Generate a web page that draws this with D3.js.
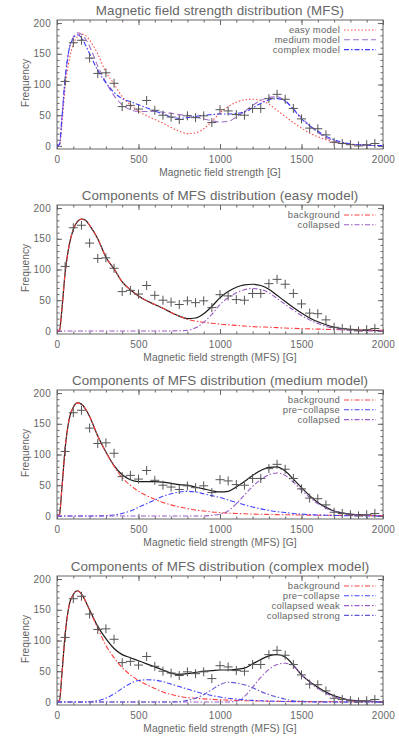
<!DOCTYPE html>
<html>
<head>
<meta charset="utf-8">
<script src="https://cdn.jsdelivr.net/npm/d3@7"></script>
<style>
  body { margin: 0; background: #fff; }
  text { font-family: "Liberation Sans", Arial, sans-serif; fill: #666; }
</style>
</head>
<body>
<div id="chart"></div>
<script>
// --- observed histogram (the "+" markers) ---
const obsX = [50,100,150,200,250,300,350,400,450,500,550,600,650,700,750,800,850,900,950,1000,
  1050,1100,1150,1200,1250,1300,1350,1400,1450,1500,1550,1600,1650,1700,1750,1800,1850,1900,1950];
const obsY = [105,168,172,143,118,119,102,64,66,60,74,58,50,47,43,49,46,49,38,59,
  57,51,50,61,61,77,84,76,61,44,29,28,18,6,4,2,0,2,4];

// --- sampling grid for the model curves [G] ---
const gridX = [0,15,30,50,75,100,125,150,175,200,250,300,350,400,450,500,550,600,650,700,750,800,850,
  900,950,1000,1050,1100,1150,1200,1250,1300,1350,1400,1450,1500,1550,1600,1650,1700,1750,1800,1850,1900,1950,2000];

// easy model
const easyTotal = [0,1,35,95,140,165,178,182,180,172,150,120,101,80,67,57,49,43,37,30,24,20,21,28,
  40,54,64,71,75,76,74,68,58,48,38,29,21,15,10,6,4,2.5,1.5,1,0.7,0.5];
const easyBackground = [0,1,35,95,140,165,178,182,180,172,150,120,101,80,67,57,49,43,37,30,24,19,16,14,
  12.5,11,10,9,8,7,6.5,6,5.3,4.7,4.2,3.7,3.3,3,2.6,2.3,2,1.8,1.5,1.3,1.1,1];
const easyCollapsed = [0,0,0,0,0,0,0,0,0,0,0,0,0,0,0,0,0,0,0,0,0.3,1,5,14,
  27,43,54,62,67,69,67.5,62,53,43,34,25,18,12,7.5,4,2,1,0.3,0,0,0];

// medium model
const mediumTotal = [0,2,45,110,158,177,184,182,174,162,130,104,82,67,59,56,56,56,55,53,51,50,47,44,
  41,39,40,47,56,66,74,79,80,73,60,46,33,22,14,8,5,3,2,1,0.7,0.5];
const mediumBackground = [0,2,45,110,158,177,184,182,174,162,130,104,81,62,50,40,33,27,22,18,14.5,12,9.5,8,
  6.5,5.5,4.5,4,3.5,3,2.7,2.4,2.1,1.9,1.7,1.5,1.3,1.2,1.1,1,0.9,0.8,0.7,0.6,0.5,0.5];
const mediumPre = [0,0,0,0,0,0,0,0,0,0,0,0.5,1.5,4,8,14,20,26,32,36,39,40,39,36,
  33,30,26,22,18,14.5,11.5,9,7,5.5,4,3,2.2,1.6,1.1,0.8,0.5,0.3,0.2,0.1,0,0];
const mediumCollapsed = [0,0,0,0,0,0,0,0,0,0,0,0,0,0,0,0,0,0,0,0,0,0,0,0,
  1,3,8,20,34,48,59,67,70,66,55,42,30,20,12.5,7.5,4.5,2.5,1.5,0.8,0.4,0.2];

// complex model
const complexTotal = [0,2,45,110,158,175,181,176,164,150,123,103,87,77,72,67,62,57,52,47,45,46,48,50,
  51,52,52,53,55,62,69,75,77,73,60,44,33,24,16,10,6,3,2,1,0.7,0.5];
const complexBackground = [0,2,45,110,158,175,181,176,164,149,120,92,72,56,44,35,28,22,16,12,9,7,6,5,
  4.2,3.5,3,2.5,2,1.7,1.4,1.2,1,0.8,0.7,0.6,0.5,0.45,0.4,0.35,0.3,0.3,0.3,0.3,0.3,0.3];
const complexPre = [0,0,0,0,0,0,0,0,0,0.5,2,6,13,22,30,35,36,35.5,33,29,25,21,17,13.5,
  10.5,8,6,4.5,3.3,2.5,1.8,1.3,1,0.7,0.5,0.3,0.2,0.1,0,0,0,0,0,0,0,0];
const complexWeak = [0,0,0,0,0,0,0,0,0,0,0,0,0,0,0,0,0,0,0,0,0,0,0,0,
  0,0,0,1,9,24,40,53,61,63,58,45,32,22,14,8.5,5,2.8,1.5,0.8,0.4,0.2];
const complexStrong = [0,0,0,0,0,0,0,0,0,0,0,0,0,0,0,0,0,0,0,0,0.5,2.5,6,12,
  20,28,32,31,28,23,17,12,8,4.5,2,1,0.4,0.2,0,0,0,0,0,0,0,0];

// --- axis ticks ---
const xMajor = [0,500,1000,1500,2000];
const yMajor = [0,50,100,150,200];

// --- panel layout ---
const W = 399, H = 742;
const panelTop = [0,185,370,556];
const left = 57, right = 383;

const svg = d3.select("#chart").append("svg")
  .attr("width", W).attr("height", H);

const x = d3.scaleLinear().domain([0,2000]).range([left, right]);

const RED = "#ff4040", PURPLE = "#9a5cc6", BLUE = "#4444ff", INDIGO = "#6058d0";

const panels = [
  { title: "Magnetic field strength distribution (MFS)", xlabel: "Magnetic field strength [G]",
    total: null,
    series: [
      { name: "easy model", values: easyTotal, color: "#ff4a4a", dash: "1.5,2" },
      { name: "medium model", values: mediumTotal, color: "#a070c8", dash: "6,3" },
      { name: "complex model", values: complexTotal, color: "#3a3aff", dash: "5,2,1.5,2" }
    ] },
  { title: "Components of MFS distribution (easy model)", xlabel: "Magnetic field strength (MFS) [G]",
    total: easyTotal,
    series: [
      { name: "background", values: easyBackground, color: RED, dash: "5,2,1.5,2" },
      { name: "collapsed", values: easyCollapsed, color: PURPLE, dash: "5,2,1.5,2" }
    ] },
  { title: "Components of MFS distribution (medium model)", xlabel: "Magnetic field strength (MFS) [G]",
    total: mediumTotal,
    series: [
      { name: "background", values: mediumBackground, color: RED, dash: "5,2,1.5,2" },
      { name: "pre\u2212collapse", values: mediumPre, color: BLUE, dash: "5,2,1.5,2" },
      { name: "collapsed", values: mediumCollapsed, color: PURPLE, dash: "5,2,1.5,2" }
    ] },
  { title: "Components of MFS distribution (complex model)", xlabel: "Magnetic field strength (MFS) [G]",
    total: complexTotal,
    series: [
      { name: "background", values: complexBackground, color: RED, dash: "5,2,1.5,2" },
      { name: "pre\u2212collapse", values: complexPre, color: BLUE, dash: "5,2,1.5,2" },
      { name: "collapsed weak", values: complexWeak, color: PURPLE, dash: "5,2,1.5,2" },
      { name: "collapsed strong", values: complexStrong, color: INDIGO, dash: "5,2,1.5,2" }
    ] }
];

panels.forEach((p, i) => {
  const oy = panelTop[i];
  const top = oy + 20, bottom = oy + 149;
  const y = d3.scaleLinear().domain([-5, 205]).range([bottom, top]);
  const g = svg.append("g");

  // title
  g.append("text")
    .attr("x", (left + right) / 2).attr("y", oy + 15)
    .attr("text-anchor", "middle")
    .attr("font-size", "13.4px")
    .attr("letter-spacing", "0.1px")
    .text(p.title);

  // axes: inward ticks on all four sides
  const axisStyle = sel => {
    sel.select(".domain").remove();
    sel.selectAll("line").attr("stroke", "#666");
    sel.selectAll("text").attr("font-size", "10px").attr("letter-spacing", "0.3px")
      .style("font-family", null).attr("fill", null);
  };
  g.append("g").attr("transform", `translate(0,${bottom})`)
    .call(d3.axisBottom(x).tickValues(xMajor).tickSize(-5).tickPadding(7).tickFormat(d3.format("d")))
    .call(axisStyle);
  g.append("g").attr("transform", `translate(0,${bottom})`)
    .call(d3.axisBottom(x).tickValues(d3.range(100, 2000, 100)).tickSize(-2.5).tickFormat(""))
    .call(axisStyle);
  g.append("g").attr("transform", `translate(0,${top})`)
    .call(d3.axisTop(x).tickValues(xMajor).tickSize(-5).tickFormat(""))
    .call(axisStyle);
  g.append("g").attr("transform", `translate(0,${top})`)
    .call(d3.axisTop(x).tickValues(d3.range(100, 2000, 100)).tickSize(-2.5).tickFormat(""))
    .call(axisStyle);
  g.append("g").attr("transform", `translate(${left},0)`)
    .call(d3.axisLeft(y).tickValues(yMajor).tickSize(-5).tickPadding(6).tickFormat(d3.format("d")))
    .call(axisStyle);
  g.append("g").attr("transform", `translate(${left},0)`)
    .call(d3.axisLeft(y).tickValues(d3.range(10, 205, 10)).tickSize(-2.5).tickFormat(""))
    .call(axisStyle);
  g.append("g").attr("transform", `translate(${right},0)`)
    .call(d3.axisRight(y).tickValues(yMajor).tickSize(-5).tickFormat(""))
    .call(axisStyle);
  g.append("g").attr("transform", `translate(${right},0)`)
    .call(d3.axisRight(y).tickValues(d3.range(10, 205, 10)).tickSize(-2.5).tickFormat(""))
    .call(axisStyle);

  // frame
  g.append("rect")
    .attr("x", left).attr("y", top)
    .attr("width", right - left).attr("height", bottom - top)
    .attr("fill", "none").attr("stroke", "#666").attr("stroke-width", 1);

  // axis titles
  g.append("text")
    .attr("x", (left + right) / 2).attr("y", oy + 176)
    .attr("text-anchor", "middle").attr("font-size", "10.2px")
    .attr("letter-spacing", "0.1px")
    .text(p.xlabel);
  g.append("text")
    .attr("transform", `translate(28.5,${oy + 83}) rotate(-90)`)
    .attr("text-anchor", "middle").attr("font-size", "10.2px")
    .text("Frequency");

  const line = d3.line()
    .x((d, k) => x(gridX[k]))
    .y(d => y(d))
    .curve(d3.curveMonotoneX);

  const clip = "clip" + i;
  g.append("clipPath").attr("id", clip).append("rect")
    .attr("x", left).attr("y", top).attr("width", right - left).attr("height", bottom - top);
  const plot = g.append("g").attr("clip-path", `url(#${clip})`);

  if (p.total) {
    plot.append("path").datum(p.total)
      .attr("d", line).attr("fill", "none")
      .attr("stroke", "#1a1a1a").attr("stroke-width", 1.2);
  }
  p.series.forEach(s => {
    plot.append("path").datum(s.values)
      .attr("d", line).attr("fill", "none")
      .attr("stroke", s.color).attr("stroke-width", 1.1)
      .attr("stroke-dasharray", s.dash);
  });

  // "+" markers
  const m = 4.5;
  const marks = plot.selectAll("g.mark").data(obsX).enter().append("g")
    .attr("transform", (d, k) => `translate(${x(d)},${y(obsY[k])})`);
  marks.append("line").attr("x1", -m).attr("x2", m).attr("stroke", "#555").attr("stroke-width", 1);
  marks.append("line").attr("y1", -m).attr("y2", m).attr("stroke", "#555").attr("stroke-width", 1);

  // legend
  p.series.forEach((s, k) => {
    const ly = oy + 30 + k * 9.8;
    g.append("text")
      .attr("x", 340).attr("y", ly + 3.3)
      .attr("text-anchor", "end").attr("font-size", "9.5px")
      .attr("letter-spacing", "0.25px")
      .text(s.name);
    g.append("line")
      .attr("x1", 344).attr("x2", 376).attr("y1", ly).attr("y2", ly)
      .attr("stroke", s.color).attr("stroke-width", 1.1)
      .attr("stroke-dasharray", s.dash);
  });
});
</script>
</body>
</html>
